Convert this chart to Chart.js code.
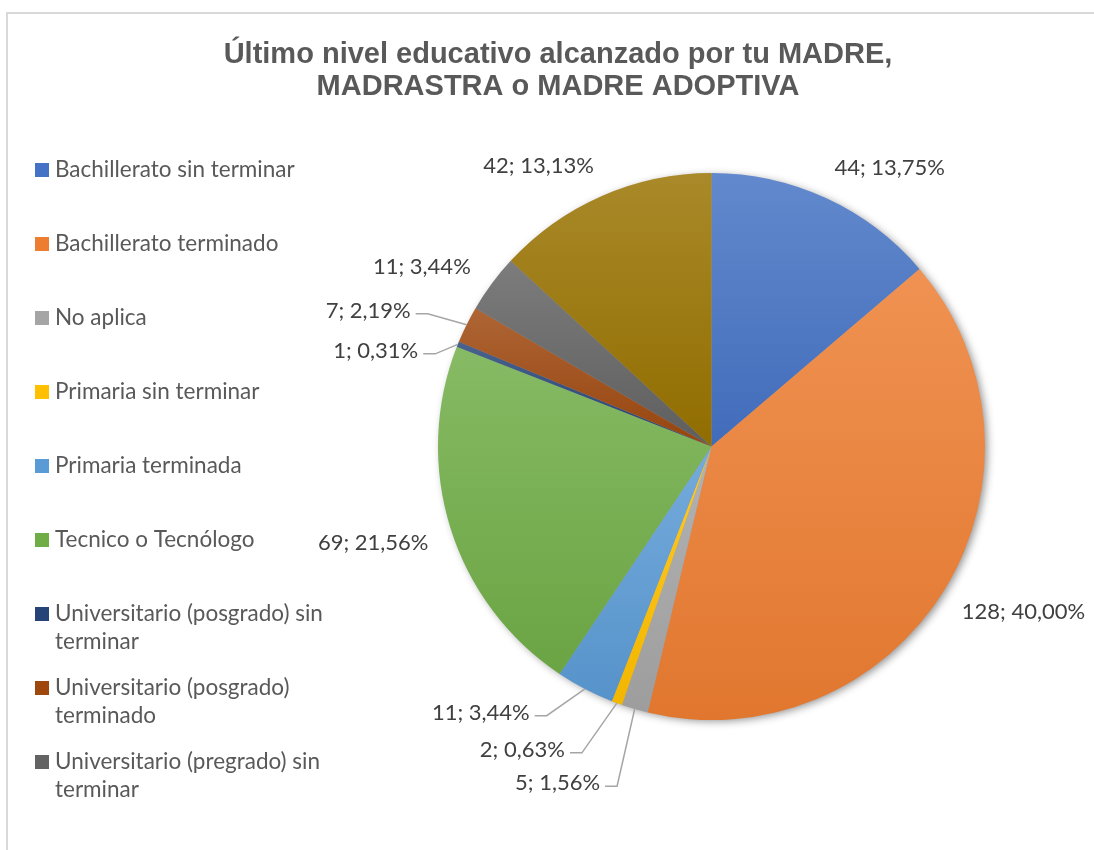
<!DOCTYPE html>
<html>
<head>
<meta charset="utf-8">
<script src="https://cdn.jsdelivr.net/npm/chart.js@4.4.1/dist/chart.umd.min.js"></script>
<style>
  html, body { margin: 0; padding: 0; background: #fff; overflow: hidden; }
  #wrap { position: relative; width: 1094px; height: 850px; }
</style>
</head>
<body>
<div id="wrap"><canvas id="pieChart"></canvas></div>
<script>
const titleLines = ['Último nivel educativo alcanzado por tu MADRE,', 'MADRASTRA o MADRE ADOPTIVA'];

const categories = [
  'Bachillerato sin terminar',
  'Bachillerato terminado',
  'No aplica',
  'Primaria sin terminar',
  'Primaria terminada',
  'Tecnico o Tecnólogo',
  'Universitario (posgrado) sin terminar',
  'Universitario (posgrado) terminado',
  'Universitario (pregrado) sin terminar',
  'Universitario (pregrado) terminado'
];

const counts = [44, 128, 5, 2, 11, 69, 1, 7, 11, 42];

const sliceColors = ['#4472C4', '#ED7D31', '#A5A5A5', '#FFC000', '#5B9BD5',
                     '#70AD47', '#264478', '#9E480E', '#636363', '#997300'];

// label nudges [dx, dy, leader]; small slices get pushed away and tied back with a leader line
const labelNudge = {
  2: [-29, 43, true], 3: [-45, 16, true], 4: [-46, -6, true],
  5: [-3, -4, false], 6: [-21, 26, true], 7: [-38, 7, true], 8: [-5, 7, false]
};

const total = counts.reduce((a, b) => a + b, 0);
const pctText = (v) => (v / total * 100).toFixed(2).replace('.', ',') + '%';

const mix = (hex, target, amt) => {
  const n = parseInt(hex.slice(1), 16);
  const ch = [(n >> 16) & 255, (n >> 8) & 255, n & 255].map(c => Math.round(c + (target - c) * amt));
  return `rgb(${ch[0]}, ${ch[1]}, ${ch[2]})`;
};

const sliceFill = (ctx) => {
  const i = ctx.dataIndex;
  const base = sliceColors[i];
  const area = ctx.chart.chartArea;
  if (!area || i === undefined) return base;
  const cx = (area.left + area.right) / 2;
  const cy = (area.top + area.bottom) / 2;
  const r = Math.min(area.right - area.left, area.bottom - area.top) / 2;
  const before = counts.slice(0, i).reduce((a, b) => a + b, 0);
  const a0 = -Math.PI / 2 + 2 * Math.PI * before / total;
  const a1 = a0 + 2 * Math.PI * counts[i] / total;
  const ys = [cy, cy + r * Math.sin(a0), cy + r * Math.sin(a1)];
  if (a0 <= Math.PI / 2 && a1 >= Math.PI / 2) ys.push(cy + r);
  if (a0 <= -Math.PI / 2 + 1e-6 || a1 >= 1.5 * Math.PI - 1e-6) ys.push(cy - r);
  const top = Math.min(...ys);
  const bottom = Math.max(...ys);
  const g = ctx.chart.ctx.createLinearGradient(0, top, 0, bottom + 1);
  g.addColorStop(0, mix(base, 255, 0.16));
  g.addColorStop(1, mix(base, 0, 0.05));
  return g;
};

const wrapText = (ctx, text, maxW) => {
  const words = text.split(' ');
  const lines = [];
  let line = '';
  words.forEach(w => {
    const test = line ? line + ' ' + w : w;
    if (ctx.measureText(test).width > maxW && line) {
      lines.push(line);
      line = w;
    } else {
      line = test;
    }
  });
  if (line) lines.push(line);
  return lines;
};

const excelLook = {
  id: 'excelLook',
  beforeDraw(chart) {
    const ctx = chart.ctx;
    ctx.save();
    ctx.strokeStyle = '#d9d9d9';
    ctx.lineWidth = 2;
    ctx.beginPath();
    ctx.moveTo(7, 850);
    ctx.lineTo(7, 13);
    ctx.lineTo(1094, 13);
    ctx.stroke();
    ctx.restore();
  },
  beforeDatasetsDraw(chart) {
    const arc = chart.getDatasetMeta(0).data[0];
    if (!arc) return;
    const ctx = chart.ctx;
    ctx.save();
    ctx.shadowColor = 'rgba(0, 0, 0, 0.45)';
    ctx.shadowBlur = 9;
    ctx.shadowOffsetX = 3;
    ctx.shadowOffsetY = 2;
    ctx.fillStyle = '#999';
    ctx.beginPath();
    ctx.arc(arc.x, arc.y, arc.outerRadius - 1, 0, Math.PI * 2);
    ctx.fill();
    ctx.restore();
  },
  afterDatasetsDraw(chart) {
    const ctx = chart.ctx;
    const arcs = chart.getDatasetMeta(0).data;

    // data labels
    ctx.save();
    ctx.font = '22px Lato';
    ctx.fillStyle = '#404040';
    ctx.textBaseline = 'middle';
    arcs.forEach((arc, i) => {
      const mid = (arc.startAngle + arc.endAngle) / 2;
      const dx = Math.cos(mid);
      const dy = Math.sin(mid);
      const ex = arc.x + dx * arc.outerRadius;
      const ey = arc.y + dy * arc.outerRadius;
      const gap = 20;
      const h = 24;
      let cx = ex + dx * gap;
      let cy = ey + dy * gap;
      const nudge = labelNudge[i];
      if (nudge) { cx += nudge[0]; cy += nudge[1]; }
      const text = counts[i] + '; ' + pctText(counts[i]);
      const midY = dy >= 0 ? cy + h / 2 : cy - h / 2;
      ctx.textAlign = dx >= 0 ? 'left' : 'right';
      ctx.fillText(text, cx, midY);
      if (nudge && nudge[2]) {
        const s = dx >= 0 ? -1 : 1;
        const ly = midY + 3;
        ctx.strokeStyle = '#a6a6a6';
        ctx.lineWidth = 1.5;
        ctx.beginPath();
        ctx.moveTo(cx + 5 * s, ly);
        ctx.lineTo(cx + 17 * s, ly);
        ctx.lineTo(ex, ey);
        ctx.stroke();
      }
    });
    ctx.restore();

    // legend (only the entries that fit, as in the original)
    ctx.save();
    ctx.font = '22.5px Lato';
    ctx.textBaseline = 'middle';
    ctx.textAlign = 'left';
    for (let i = 0; i < categories.length; i++) {
      const y = 170 + 74 * i;
      const lines = wrapText(ctx, categories[i], 300);
      if (y + (lines.length - 1) * 28 > 805) break;
      ctx.fillStyle = sliceColors[i];
      ctx.fillRect(35, y - 7, 14, 14);
      ctx.fillStyle = '#595959';
      lines.forEach((ln, k) => ctx.fillText(ln, 55, y + k * 28));
    }
    ctx.restore();

    // title
    ctx.save();
    ctx.font = 'bold 29px "Liberation Sans", Arial, sans-serif';
    ctx.fillStyle = '#595959';
    ctx.textAlign = 'center';
    ctx.textBaseline = 'middle';
    titleLines.forEach((t, k) => ctx.fillText(t, 558, 55 + k * 32));
    ctx.restore();
  }
};

new Chart(document.getElementById('pieChart'), {
  type: 'pie',
  data: {
    labels: categories,
    datasets: [{
      data: counts,
      backgroundColor: sliceFill,
      borderWidth: 0,
      hoverOffset: 0,
      offset: 0
    }]
  },
  options: {
    responsive: true,
    maintainAspectRatio: false,
    animation: false,
    layout: { padding: { left: 438, right: 109, top: 173, bottom: 130 } },
    plugins: {
      legend: { display: false },
      tooltip: { enabled: false },
      title: { display: false }
    }
  },
  plugins: [excelLook]
});
</script>
</body>
</html>
